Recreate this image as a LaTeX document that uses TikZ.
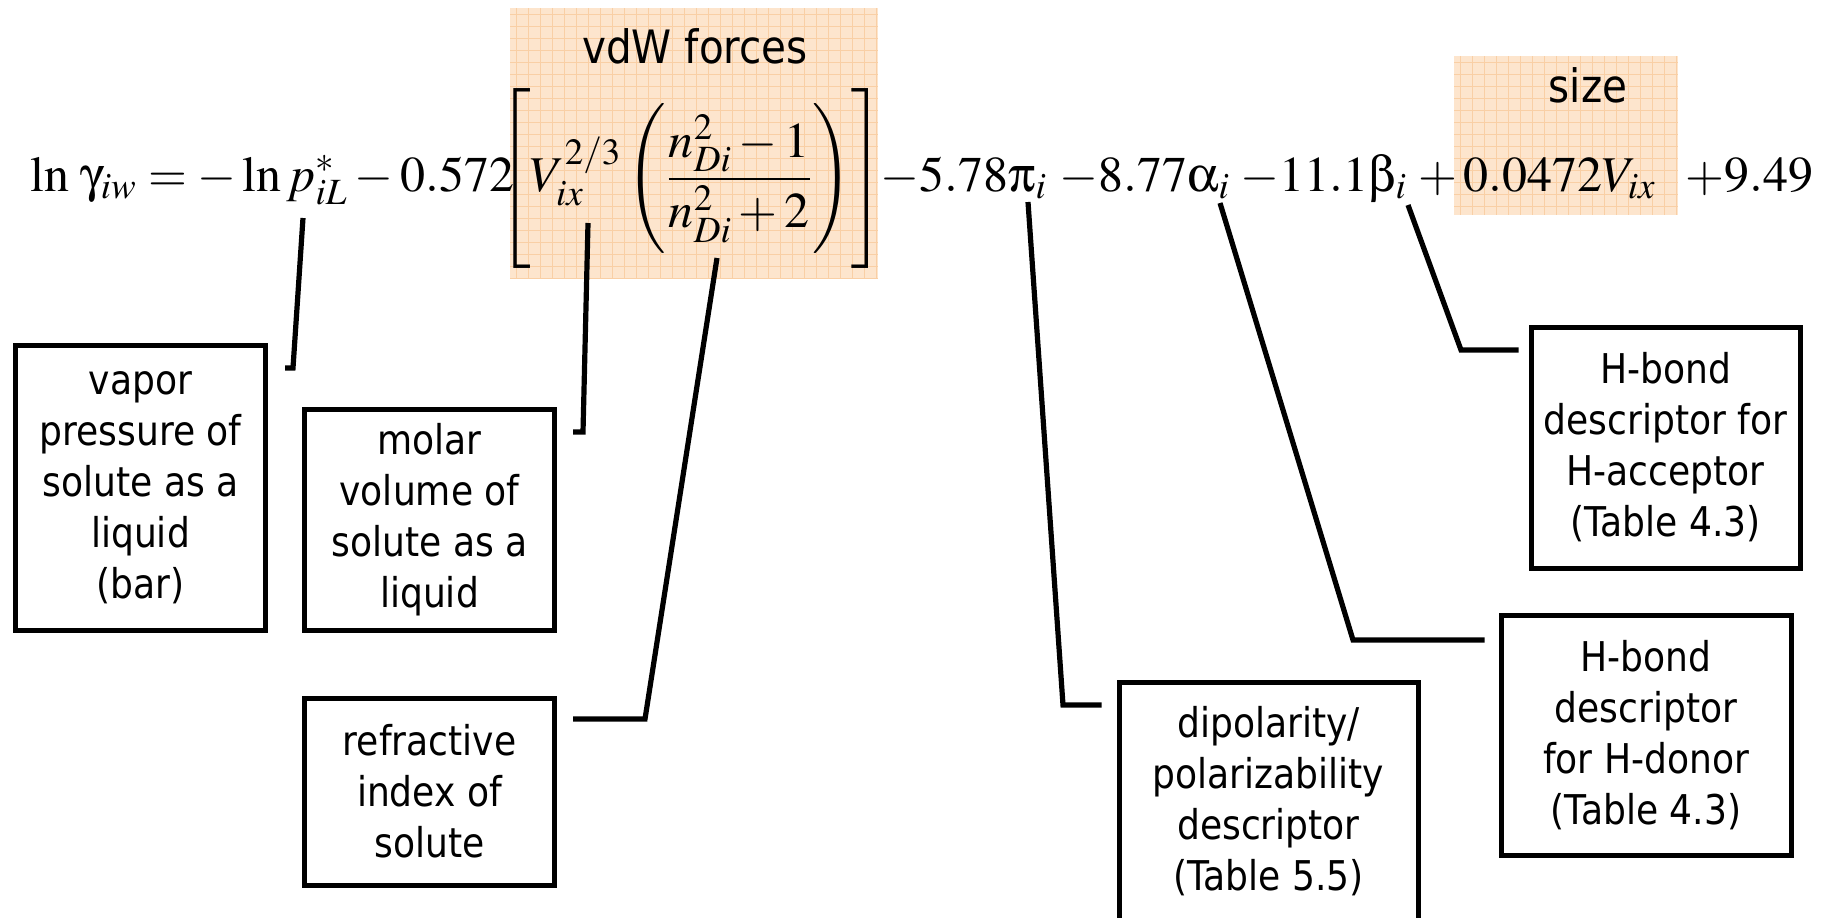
\documentclass[tikz,border=0pt]{standalone}
\usepackage{mathptmx}
\usepackage[Symbol]{upgreek}
\usepackage[no-math]{fontspec}
\newfontfamily\boxfont[FakeStretch=0.88]{DejaVu Sans}
\definecolor{peach}{RGB}{253,229,205}
\definecolor{peachgrid}{RGB}{249,207,165}
\tikzset{
  eq/.style={inner sep=0pt, anchor=base west, font=\fontsize{25}{30}\selectfont},
  title/.style={inner sep=0pt, anchor=base, font=\boxfont\fontsize{23}{28}\selectfont},
  desc/.style={draw, line width=2.5pt, inner sep=0pt, align=center, font=\boxfont\fontsize{20.5}{25.5}\selectfont},
  link/.style={line width=2.6pt},
  gridline/.style={peachgrid, line width=0.5pt}
}
\begin{document}
\begin{tikzpicture}[x=0.5pt,y=-0.5pt]
\useasboundingbox (0,0) rectangle (1847,917);
\clip (0,0) rectangle (1847,917);
% shaded parts of the equation
\fill[peach] (510,8) rectangle (878,278);
\foreach \gx in {516,528,...,876} \draw[gridline] (\gx,8) -- (\gx,278);
\foreach \gy in {14,26,...,278} \draw[gridline] (510,\gy) -- (878,\gy);
\fill[peach] (1454,56) rectangle (1678,215);
\foreach \gx in {1460,1472,...,1676} \draw[gridline] (\gx,56) -- (\gx,215);
\foreach \gy in {62,74,...,215} \draw[gridline] (1454,\gy) -- (1678,\gy);
\node[title] (vdwtitle) at (695,63) {vdW forces};
\node[title] (sizetitle) at (1588,102) {size};
% equation
\node[eq] (lhs) at (30,191) {$\ln\,\upgamma_{iw} = -\ln p^{*}_{iL} - 0.572$};
\node[eq, anchor=base] (vdw) at (691,191) {$\displaystyle\left[\rule[-34pt]{0pt}{82pt}V_{ix}^{2/3}\left(\rule[-32pt]{0pt}{78pt}\frac{n_{Di}^{2}-1}{n_{Di}^{2}+2}\right)\right]$};
\node[eq] (pi) at (880,191) {$-5.78\uppi_{i}$};
\node[eq] (alpha) at (1059,191) {$-8.77\upalpha_{i}$};
\node[eq] (beta) at (1240,191) {$-11.1\upbeta_{i}$};
\node[eq] (plus) at (1418,191) {$+$};
\node[eq] (size) at (1463,191) {$0.0472V_{ix}$};
\node[eq] (const) at (1685,191) {$+9.49$};
% descriptor boxes
\node[desc, minimum width=125pt, minimum height=142.5pt] (vapor) at (140.5,487.5) {vapor\\pressure of\\solute as a\\liquid\\(bar)};
\node[desc, minimum width=125pt, minimum height=110.5pt] (molar) at (429.5,519.5) {molar\\volume of\\solute as a\\liquid};
\node[desc, minimum width=125pt, minimum height=93.5pt] (refr) at (429.5,791.5) {refractive\\index of\\solute};
\node[desc, minimum width=149.5pt, anchor=north, inner ysep=12pt] (dipol) at (1268.5,680) {dipolarity/\\polarizability\\descriptor\\(Table 5.5)\\\rule{0pt}{60pt}};
\node[desc, minimum width=145pt, minimum height=120pt] (donor) at (1646,735) {H-bond\\descriptor\\for H-donor\\(Table 4.3)};
\node[desc, minimum width=134.5pt, minimum height=120.5pt] (accept) at (1665.5,447.5) {H-bond\\descriptor for\\H-acceptor\\(Table 4.3)};
% connectors
\coordinate (ptop) at (303,218); \coordinate (pbend) at (293,368);
\coordinate (vtop) at (588,223); \coordinate (vbend) at (583,432);
\coordinate (ntop) at (717,258); \coordinate (nbend) at (645,719);
\coordinate (pitop) at (1028,202); \coordinate (pibend) at (1063,705);
\coordinate (atop) at (1220,203); \coordinate (abend) at (1353,640);
\coordinate (btop) at (1408,205); \coordinate (bbend) at (1461,350);
\draw[link, shorten >=8.5pt] (ptop) -- (pbend) -- (pbend -| vapor.east);
\draw[link, shorten >=8pt] (vtop) -- (vbend) -- (vbend -| molar.east);
\draw[link, shorten >=8pt] (ntop) -- (nbend) -- (nbend -| refr.east);
\draw[link, shorten >=7.5pt] (pitop) -- (pibend) -- (pibend -| dipol.west);
\draw[link, shorten >=7pt] (atop) -- (abend) -- (abend -| donor.west);
\draw[link, shorten >=5pt] (btop) -- (bbend) -- (bbend -| accept.west);
\end{tikzpicture}
\end{document}
